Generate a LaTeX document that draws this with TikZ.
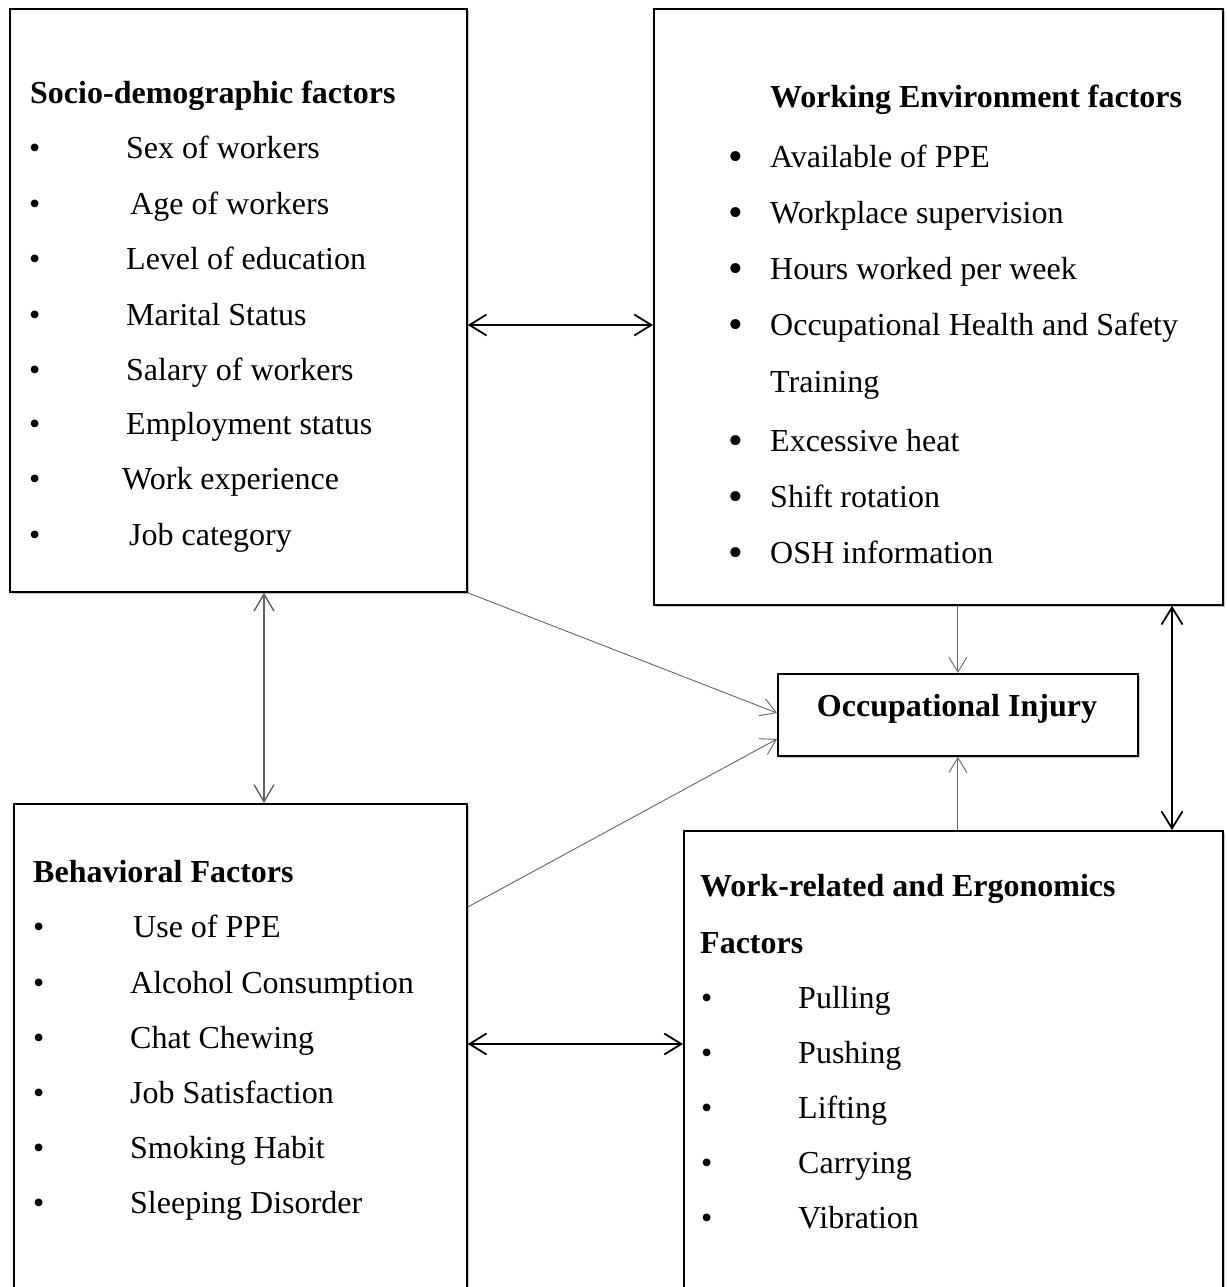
\documentclass[tikz,border=0pt]{standalone}
\usepackage{fontspec}
\setmainfont{Liberation Serif}
\usetikzlibrary{arrows.meta,shadows,calc}
\begin{document}
\begin{tikzpicture}[x=1pt,y=-1pt,
  box/.style={draw=black, line width=1.8pt, fill=white, inner sep=0pt, anchor=north west,
    drop shadow={shadow xshift=2pt, shadow yshift=-2.5pt, opacity=0.22, fill=black}},
  txt/.style={anchor=base west, inner sep=0pt, font=\fontsize{32}{38}\selectfont},
  ttl/.style={anchor=base west, inner sep=0pt, font=\fontsize{32}{38}\selectfont\bfseries},
  bdot/.style={anchor=base west, inner sep=0pt, font=\fontsize{32}{38}\selectfont},
  bigdot/.style={anchor=base, inner sep=0pt, font=\fontsize{42}{42}\selectfont},
  blkarrow/.style={line width=1.8pt, draw=black,
    {Straight Barb[length=17pt,width=21pt,line width=1.8pt]}-{Straight Barb[length=17pt,width=21pt,line width=1.8pt]}},
  grayarrow/.style={line width=1.4pt, draw=black!62,
    {Straight Barb[length=17pt,width=20pt,line width=1.4pt]}-{Straight Barb[length=17pt,width=20pt,line width=1.4pt]}},
  thinarrow/.style={line width=0.9pt, draw=black!60,
    -{Straight Barb[length=15pt,width=18pt,line width=0.9pt]}}
]
\useasboundingbox (0,0) rectangle (1226,1287);
\fill[white] (0,0) rectangle (1226,1287);
\clip (0,0) rectangle (1226,1287);

% boxes
\node[box, minimum width=457pt, minimum height=583pt] (socio) at (9,8) {};
\node[box, minimum width=569pt, minimum height=596pt] (env) at (653,8) {};
\node[box, minimum width=360pt, minimum height=82pt] (inj) at (777,673) {};
\node[box, minimum width=453pt, minimum height=520pt] (behav) at (13,803) {};
\node[box, minimum width=539pt, minimum height=500pt] (work) at (683,830) {};

% socio-demographic
\node[ttl] (s0) at (30,104) {Socio-demographic factors};
\foreach \y/\x/\t [count=\i] in {158/126/Sex of workers, 214/130/Age of workers, 269/126/Level of education, 325/126/Marital Status, 380/126/Salary of workers, 434/126/Employment status, 489/122/Work experience, 545/129/Job category}{
  \node[bdot] (sb\i) at (29,\y) {•};
  \node[txt] (s\i) at (\x,\y) {\t};
}

% working environment
\node[ttl] (e0) at (770,108) {Working Environment factors};
\foreach \y/\t [count=\i] in {167/Available of PPE, 223/Workplace supervision, 279/Hours worked per week, 335/Occupational Health and Safety, 451/Excessive heat, 507/Shift rotation, 563/OSH information}{
  \node[bigdot] (eb\i) at (736,\y+3) {•};
  \node[txt] (e\i) at (770,\y) {\t};
}
\node[txt] (e8) at (770,392) {Training};

% occupational injury
\node[anchor=base, inner sep=0pt, font=\fontsize{32}{38}\selectfont\bfseries] (injt) at (957,716) {Occupational Injury};

% behavioral
\node[ttl] (b0) at (33,882) {Behavioral Factors};
\foreach \y/\x/\t [count=\i] in {937/133/Use of PPE, 993/130/Alcohol Consumption, 1048/130/Chat Chewing, 1103/130/Job Satisfaction, 1158/130/Smoking Habit, 1213/130/Sleeping Disorder}{
  \node[bdot] (bb\i) at (33,\y) {•};
  \node[txt] (b\i) at (\x,\y) {\t};
}

% work-related
\node[ttl] (w0) at (700,896) {Work-related and Ergonomics};
\node[ttl] (w00) at (700,953) {Factors};
\foreach \y/\t [count=\i] in {1008/Pulling, 1063/Pushing, 1118/Lifting, 1173/Carrying, 1228/Vibration}{
  \node[bdot] (wb\i) at (701,\y) {•};
  \node[txt] (w\i) at (798,\y) {\t};
}

% connectors
\coordinate (h1) at (0,325);
\coordinate (h2) at (0,1044);
\coordinate (v1) at (264,0);
\coordinate (v2) at (1172,0);
\coordinate (bstart) at (0,907);
\coordinate (i1) at (0,713);
\coordinate (i2) at (0,739);

\draw[blkarrow] (socio.east |- h1) -- (env.west |- h1);
\draw[blkarrow] (behav.east |- h2) -- (work.west |- h2);
\draw[blkarrow] (env.south -| v2) -- (work.north -| v2);
\draw[grayarrow] (socio.south -| v1) -- (behav.north -| v1);
\draw[thinarrow] (socio.south east) -- (inj.west |- i1);
\draw[thinarrow] (behav.east |- bstart) -- (inj.west |- i2);
\draw[thinarrow] (env.south -| inj.north) -- (inj.north);
\draw[thinarrow] (work.north -| inj.south) -- (inj.south);
\end{tikzpicture}
\end{document}
